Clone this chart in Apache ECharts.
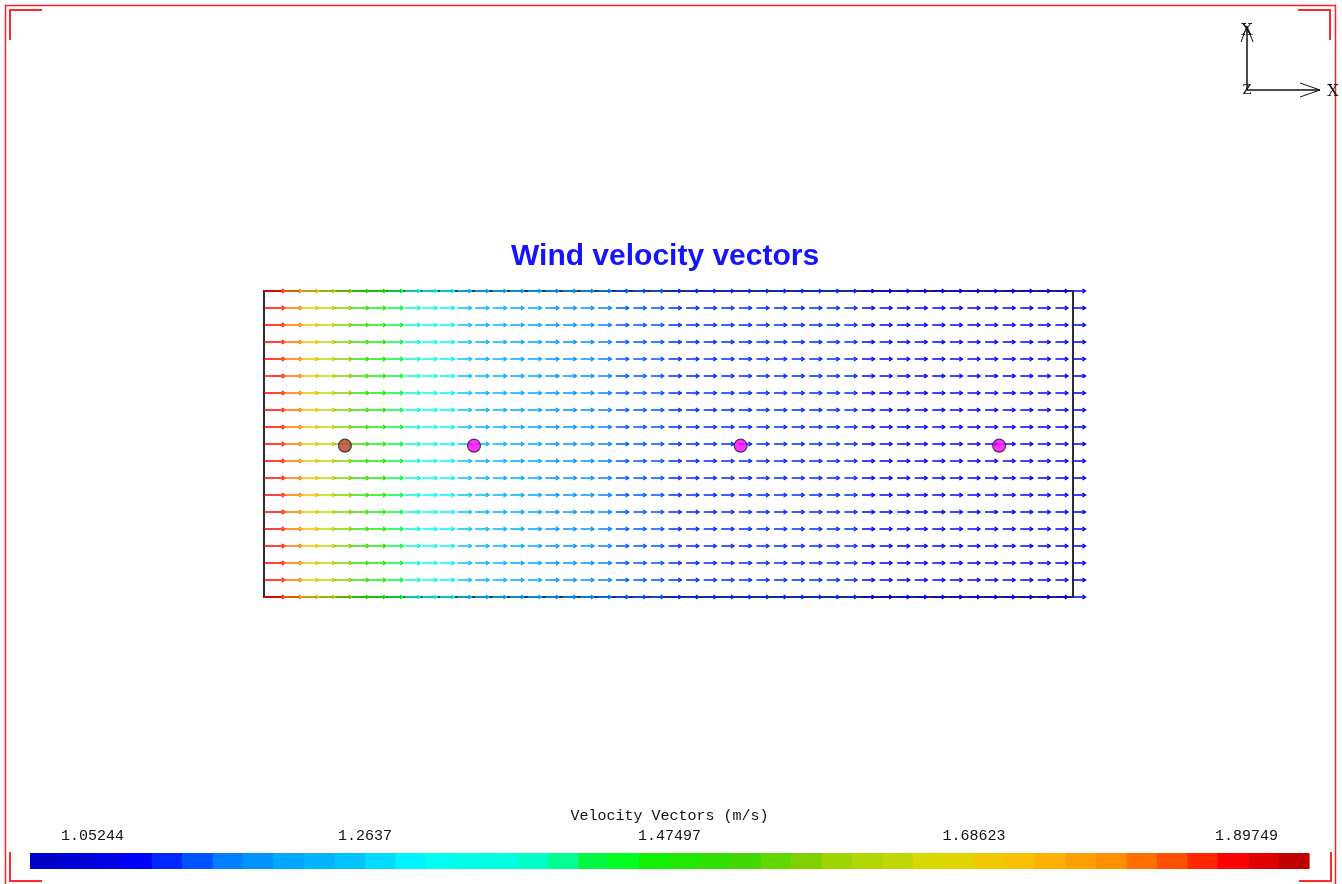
<!DOCTYPE html>
<html>
<head>
<meta charset="utf-8">
<title>Wind velocity vectors</title>
<script src="https://cdn.jsdelivr.net/npm/echarts@6/dist/echarts.min.js"></script>
<style>
  html, body { margin: 0; padding: 0; background: #ffffff; }
  #chart { width: 1342px; height: 884px; }
</style>
</head>
<body>
<div id="chart"></div>
<script>
// Wind speed (m/s) at each grid column, inlet (left) to outlet (right)
const columnSpeeds = [
  1.86, 1.81, 1.71, 1.63, 1.56, 1.50, 1.46, 1.42, 1.38, 1.32,
  1.29, 1.25, 1.24, 1.23, 1.22, 1.21, 1.20, 1.19, 1.18, 1.17,
  1.15, 1.145, 1.14, 1.135, 1.13, 1.128, 1.126, 1.124, 1.122, 1.12,
  1.12, 1.118, 1.118, 1.117, 1.114, 1.113, 1.112, 1.111, 1.11, 1.11,
  1.109, 1.108, 1.108, 1.107, 1.107, 1.106, 1.106
];
// Number of grid rows across the domain
const rowCount = 19;

// Probe markers: [column, row]
const probePositions = [[4.6, 9.1], [11.94, 9.1], [27.1, 9.1], [41.8, 9.1]];
const probeColors = ['#B8402E', '#FF00FF', '#FF00FF', '#FF00FF'];

// Legend scale (m/s)
const legendMin = 1.03131;
const legendMax = 1.91862;
const legendTicks = [1.05244, 1.2637, 1.47497, 1.68623, 1.89749];
const legendTickLabels = ['1.05244', '1.2637', '1.47497', '1.68623', '1.89749'];
const bandColors = [
  '#0000C8', '#0000D8', '#0000E4', '#0000FF', '#0028FF', '#0054FF', '#0080FF', '#0094FF',
  '#00A8FF', '#00B4FF', '#00C4FF', '#00DCFF', '#00F4FF', '#00FFF0', '#00FFE4', '#00FFE0',
  '#00FFC8', '#00FF90', '#00F840', '#00FF20', '#10F000', '#20E800', '#30E000', '#40D800',
  '#60D800', '#80D000', '#A0D400', '#B0D800', '#C0D800', '#D8D800', '#E0D400', '#F0C800',
  '#F8C000', '#FFB000', '#FFA000', '#FF9000', '#FF7000', '#FF5000', '#FF2800', '#FF0000',
  '#E00000', '#C00000'
];

const bandStep = (legendMax - legendMin) / bandColors.length;
function speedColor(v) {
  let i = Math.floor((v - legendMin) / bandStep);
  i = Math.max(0, Math.min(bandColors.length - 1, i));
  return bandColors[i];
}

// One vector per grid node: [column, row, speed]
const vectorData = [];
for (let r = 0; r < rowCount; r++) {
  for (let c = 0; c < columnSpeeds.length; c++) {
    vectorData.push([c, r, columnSpeeds[c]]);
  }
}
const bandData = bandColors.map((col, i) => [legendMin + i * bandStep, legendMin + (i + 1) * bandStep]);

// Vector length in column units per m/s
const vectorScale = 0.64;

const chart = echarts.init(document.getElementById('chart'), null, { renderer: 'canvas' });

const redLine = { stroke: '#FF2A2A', lineWidth: 2, fill: null };
function bracket(points) {
  return { type: 'polyline', shape: { points: points }, style: redLine, silent: true };
}

const monoFont = 'Liberation Mono';

chart.setOption({
  animation: false,
  backgroundColor: '#ffffff',
  title: {
    text: 'Wind velocity vectors',
    left: 506,
    top: 237,
    textStyle: { fontFamily: 'Liberation Sans', fontWeight: 'bold', fontSize: 30, color: '#1414FF' }
  },
  graphic: [
    // outer frame
    { type: 'rect', shape: { x: 5.5, y: 5.5, width: 1330, height: 882 },
      style: { stroke: '#FF2020', lineWidth: 1.5, fill: null }, silent: true },
    // corner brackets
    bracket([[42, 10], [10, 10], [10, 40]]),
    bracket([[1298, 10], [1330, 10], [1330, 40]]),
    bracket([[10, 852], [10, 881], [42, 881]]),
    bracket([[1331, 852], [1331, 881], [1299, 881]]),
    // orientation triad
    { type: 'group', silent: true, children: [
      { type: 'line', shape: { x1: 1247, y1: 26, x2: 1247, y2: 90 }, style: { stroke: '#111', lineWidth: 1.5 } },
      { type: 'line', shape: { x1: 1247, y1: 90, x2: 1320, y2: 90 }, style: { stroke: '#111', lineWidth: 1.5 } },
      { type: 'polyline', shape: { points: [[1241, 42], [1247, 26], [1253, 42]] }, style: { stroke: '#111', lineWidth: 1, fill: null } },
      { type: 'polyline', shape: { points: [[1300, 83], [1320, 90], [1300, 97]] }, style: { stroke: '#111', lineWidth: 1, fill: null } },
      { type: 'text', x: 1247, y: 31, style: { text: 'X', fontFamily: 'DejaVu Serif', fontSize: 16, fill: '#111', align: 'center', verticalAlign: 'middle' } },
      { type: 'text', x: 1333, y: 92, style: { text: 'X', fontFamily: 'DejaVu Serif', fontSize: 16, fill: '#111', align: 'center', verticalAlign: 'middle' } },
      { type: 'text', x: 1247, y: 91, style: { text: 'Z', fontFamily: 'DejaVu Serif', fontSize: 13, fill: '#111', align: 'center', verticalAlign: 'middle' } }
    ] }
  ],
  grid: [
    { left: 264, top: 291, width: 809, height: 306, show: true, borderColor: '#2E2E2E', borderWidth: 2, backgroundColor: 'transparent' },
    { left: 30, top: 853, width: 1279, height: 16 }
  ],
  xAxis: [
    { gridIndex: 0, type: 'value', min: 0, max: 46, show: false },
    { gridIndex: 1, type: 'value', min: legendMin, max: legendMax, position: 'top',
      name: 'Velocity Vectors (m/s)', nameLocation: 'middle', nameGap: 29,
      nameTextStyle: { fontFamily: monoFont, fontSize: 15, color: '#111' },
      axisLine: { show: false }, splitLine: { show: false },
      axisTick: { show: true, customValues: legendTicks, length: 4, inside: false, lineStyle: { color: '#111', width: 1 } },
      axisLabel: { show: true, customValues: legendTicks, margin: 9,
        fontFamily: monoFont, fontSize: 15, color: '#111',
        formatter: function (val) {
          let best = 0;
          legendTicks.forEach((t, i) => { if (Math.abs(t - val) < Math.abs(legendTicks[best] - val)) best = i; });
          const txt = legendTickLabels[best];
          // end labels sit inside the bar: first starts at its tick, last ends at its tick
          if (best === 0) return '{first|' + txt + '}';
          if (best === legendTicks.length - 1) return '{last|' + txt + '}';
          return txt;
        },
        rich: {
          first: { fontFamily: monoFont, fontSize: 15, color: '#111', padding: [0, 0, 0, 64] },
          last: { fontFamily: monoFont, fontSize: 15, color: '#111', padding: [0, 64, 0, 0] }
        } }
    }
  ],
  yAxis: [
    { gridIndex: 0, type: 'value', min: 0, max: 18, inverse: true, show: false },
    { gridIndex: 1, type: 'value', min: 0, max: 1, show: false }
  ],
  series: [
    {
      type: 'custom',
      name: 'vectors',
      xAxisIndex: 0, yAxisIndex: 0,
      data: vectorData,
      renderItem: function (params, api) {
        const c = api.value(0), r = api.value(1), v = api.value(2);
        const p0 = api.coord([c, r]);
        const p1 = api.coord([c + v * vectorScale, r]);
        const color = speedColor(v);
        const h = 3, w = 2;
        return { type: 'group', children: [
          { type: 'line', shape: { x1: p0[0], y1: p0[1], x2: p1[0], y2: p1[1] }, style: { stroke: color, lineWidth: 1.5 } },
          { type: 'polyline', shape: { points: [[p1[0] - h, p1[1] - w], [p1[0], p1[1]], [p1[0] - h, p1[1] + w]] },
            style: { stroke: color, lineWidth: 1.4, fill: null } }
        ] };
      },
      z: 3
    },
    {
      type: 'scatter',
      name: 'probes',
      xAxisIndex: 0, yAxisIndex: 0,
      data: probePositions.map((p, i) => ({ value: p, itemStyle: { color: probeColors[i] } })),
      symbol: 'circle',
      symbolSize: 13,
      itemStyle: { borderColor: '#222', borderWidth: 1.2 },
      z: 5
    },
    {
      type: 'custom',
      name: 'legend bands',
      xAxisIndex: 1, yAxisIndex: 1,
      data: bandData,
      renderItem: function (params, api) {
        const a = api.coord([api.value(0), 1]);
        const b = api.coord([api.value(1), 0]);
        const col = bandColors[params.dataIndex];
        return { type: 'rect', shape: { x: a[0], y: a[1], width: b[0] - a[0] + 0.6, height: b[1] - a[1] },
          style: { fill: col } };
      }
    }
  ]
});
</script>
</body>
</html>
